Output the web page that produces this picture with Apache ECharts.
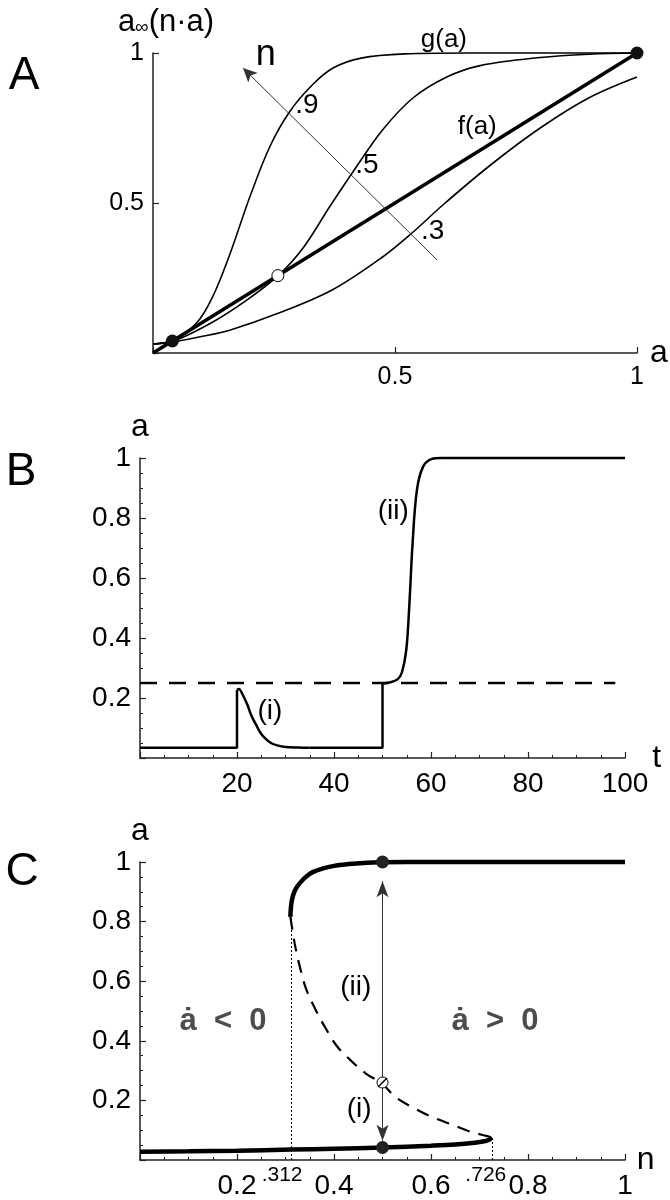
<!DOCTYPE html>
<html>
<head>
<meta charset="utf-8">
<script src="https://cdn.jsdelivr.net/npm/echarts@6/dist/echarts.min.js"></script>
<style>
  html, body { margin: 0; background: #fff; }
  #main { width: 670px; height: 1200px; }
</style>
</head>
<body>
<div id="main"></div>
<script>
// ---- panel A : a_inf(n*a) against a ----
var curveN9 = [[0, 0.03], [0.04, 0.042], [0.09, 0.1], [0.124, 0.19], [0.159, 0.33], [0.2, 0.52], [0.242, 0.69], [0.283, 0.806], [0.33, 0.895], [0.372, 0.95], [0.43, 0.983], [0.52, 0.997], [0.65, 1], [1, 1]];
var curveN5 = [[0, 0.03], [0.04, 0.038], [0.12, 0.1], [0.19, 0.172], [0.258, 0.257], [0.31, 0.35], [0.366, 0.49], [0.42, 0.62], [0.475, 0.745], [0.537, 0.85], [0.607, 0.92], [0.676, 0.958], [0.8, 0.985], [0.9, 0.996], [1, 1]];
var curveN3 = [[0, 0.03], [0.04, 0.037], [0.1, 0.055], [0.16, 0.077], [0.26, 0.133], [0.37, 0.21], [0.47, 0.315], [0.535, 0.4], [0.6, 0.495], [0.7, 0.63], [0.8, 0.75], [0.9, 0.85], [1, 0.92]];
var lineF = [[0, 0], [1, 1]];
var stableA = [[0.04, 0.04], [1, 1]];
var unstableA = [[0.258, 0.258]];
var arrowN = [[0.587, 0.31], [0.186, 0.95]];
var tickA = [0.5, 1];

// ---- panel B : a(t) ----
var bBase1 = [[0, 0.034], [20, 0.034], [20, 0.227]];
var bPulse = [[20, 0.227], [20.4, 0.23], [21.2, 0.21], [22.1, 0.179], [23, 0.14], [23.9, 0.112], [24.8, 0.085], [25.7, 0.067], [27, 0.05], [28.3, 0.042], [30, 0.037], [32.7, 0.035], [35, 0.034]];
var bBase2 = [[35, 0.034], [50, 0.034], [50, 0.248]];
var bRise = [[50, 0.248], [51.5, 0.252], [53.1, 0.262], [54, 0.285], [54.9, 0.36], [55.5, 0.5], [56.2, 0.715], [57.1, 0.894], [58.4, 0.972], [60.2, 0.997], [62, 1], [100, 1]];
var threshold = [[0, 0.25], [98, 0.25]];

// ---- panel C : bifurcation in n ----
var upperBranch = [[0.31, 0.816], [0.312, 0.86], [0.316, 0.89], [0.322, 0.912], [0.33, 0.93], [0.342, 0.95], [0.356, 0.966], [0.376, 0.978], [0.4, 0.987], [0.43, 0.993], [0.46, 0.997], [0.5, 0.999], [0.6, 1], [1, 1]];
var middleBranch = [[0.31, 0.816], [0.319, 0.726], [0.328, 0.659], [0.341, 0.581], [0.359, 0.514], [0.381, 0.447], [0.407, 0.38], [0.434, 0.335], [0.465, 0.291], [0.5, 0.255], [0.526, 0.212], [0.566, 0.173], [0.601, 0.145], [0.646, 0.117], [0.681, 0.095], [0.716, 0.08], [0.726, 0.075]];
var lowerBranch = [[0, 0.028], [0.1, 0.029], [0.2, 0.031], [0.312, 0.035], [0.4, 0.038], [0.5, 0.042], [0.6, 0.048], [0.65, 0.052], [0.69, 0.058], [0.71, 0.063], [0.72, 0.068], [0.726, 0.075]];
var stableC = [[0.5, 1], [0.5, 0.042]];
var unstableC = [[0.5, 0.26]];
var foldN = [0.312, 0.726];
var foldA = [0.816, 0.075];
var arrowUp = [[0.5, 0.27], [0.5, 0.935]];
var arrowDown = [[0.5, 0.25], [0.5, 0.065]];

var FONT = '"Liberation Sans", Arial, sans-serif';

var myChart = echarts.init(document.getElementById('main'));

function valAxis(gridIndex, max, interval, minor, isY, size) {
  return {
    type: 'value', gridIndex: gridIndex, min: 0, max: max, interval: interval,
    axisLine: { show: true, onZero: false, lineStyle: { color: '#222', width: 1.5 } },
    axisTick: { show: true, inside: true, length: 6, lineStyle: { color: '#222', width: 1.2 } },
    minorTick: { show: minor, splitNumber: 4, length: 3, lineStyle: { color: '#222', width: 1 } },
    splitLine: { show: false },
    axisLabel: {
      fontFamily: FONT, fontSize: size, color: '#000', margin: isY ? 9 : 12,
      formatter: function (v) { return v === 0 ? '' : String(+v.toFixed(2)); }
    },
    nameTextStyle: { fontFamily: FONT, fontSize: 32, color: '#000' },
    nameGap: isY ? 15 : 12
  };
}

function curve(data, xi, width, extra) {
  var s = {
    type: 'line', data: data, xAxisIndex: xi, yAxisIndex: xi, symbol: 'none',
    clip: false, silent: true, animation: false,
    lineStyle: { color: '#000', width: width }
  };
  for (var k in extra) s[k] = extra[k];
  return s;
}

function dots(xi, data, size, style, extra) {
  var s = {
    type: 'scatter', xAxisIndex: xi, yAxisIndex: xi, data: data, symbolSize: size,
    clip: false, silent: true, z: 5, itemStyle: style
  };
  style.opacity = 1;
  for (var k in extra) s[k] = extra[k];
  return s;
}

function textSeries(xi, items, size, more) {
  var lab = {
    show: true, position: 'inside', formatter: '{b}', fontFamily: FONT, fontSize: size,
    color: '#000', textBorderWidth: 0, opacity: 1
  };
  for (var k in more) lab[k] = more[k];
  return {
    type: 'scatter', xAxisIndex: xi, yAxisIndex: xi, symbolSize: 1, clip: false, silent: true,
    itemStyle: { color: 'rgba(0,0,0,0)' }, z: 10, label: lab, data: items
  };
}

var xA = valAxis(0, 1, 0.5, false, false, 25);
xA.name = 'a'; xA.nameGap = 13;
xA.axisLabel.formatter = function (v) { return tickA.indexOf(v) >= 0 ? String(v) : ''; };
var yA = valAxis(0, 1, 0.5, false, true, 25);
yA.axisLabel.formatter = function (v) { return tickA.indexOf(v) >= 0 ? String(v) : ''; };

var xB = valAxis(1, 100, 20, true, false, 28); xB.name = 't';
var yB = valAxis(1, 1, 0.2, true, true, 28); yB.name = 'a';
var xC = valAxis(2, 1, 0.2, true, false, 28); xC.name = 'n'; xC.nameGap = 8;
var yC = valAxis(2, 1, 0.2, true, true, 28); yC.name = 'a';

var letter = function (t, x, y) {
  return { type: 'text', x: x, y: y, style: { text: t, fontSize: 46, fontFamily: FONT, fill: '#000', align: 'center', verticalAlign: 'middle' } };
};

var option = {
  backgroundColor: '#fff',
  animation: false,
  grid: [
    { left: 153, top: 53, width: 484, height: 300 },
    { left: 140, top: 458, width: 485, height: 300 },
    { left: 140, top: 862, width: 485, height: 301 }
  ],
  xAxis: [xA, xB, xC],
  yAxis: [yA, yB, yC],
  graphic: [
    letter('A', 24, 76),
    letter('B', 21, 472),
    letter('C', 22, 872),
    {
      type: 'text', x: 166, y: 22,
      style: {
        text: 'a{s|∞}(n·a)', fontSize: 31, fontFamily: FONT, fill: '#000', align: 'center', verticalAlign: 'middle',
        rich: { s: { fontSize: 19, fontFamily: FONT, lineHeight: 15, verticalAlign: 'bottom' } }
      }
    }
  ],
  series: [
    // panel A
    curve(curveN9, 0, 1.6, { smooth: 0.35 }),
    curve(curveN5, 0, 1.6, { smooth: 0.35 }),
    curve(curveN3, 0, 1.6, {
      smooth: 0.35,
      markLine: {
        silent: true, symbol: ['none', 'arrow'], symbolSize: [10, 14], animation: false,
        label: { show: false }, lineStyle: { color: '#333', width: 1, type: 'solid' },
        data: [[{ coord: arrowN[0] }, { coord: arrowN[1] }]]
      }
    }),
    curve(lineF, 0, 3.5, {}),
    dots(0, stableA, 13, { color: '#111' }),
    dots(0, unstableA, 12, { color: '#fff', borderColor: '#000', borderWidth: 1 }),
    textSeries(0, [
      { name: '.9', value: [0.318, 0.827] },
      { name: '.5', value: [0.442, 0.627] },
      { name: '.3', value: [0.578, 0.407] }
    ], 28),
    textSeries(0, [
      { name: 'g(a)', value: [0.601, 1], label: { offset: [0, -13] } },
      { name: 'f(a)', value: [0.67, 0.753] }
    ], 26),
    textSeries(0, [{ name: 'n', value: [0.233, 0.993] }], 36),

    // panel B
    curve(bBase1, 1, 2.5, {}),
    curve(bPulse, 1, 2.5, { smooth: 0.35 }),
    curve(bBase2, 1, 2.5, {}),
    curve(bRise, 1, 2.5, { smooth: 0.35 }),
    curve(threshold, 1, 2.5, { lineStyle: { color: '#000', width: 2.5, type: [17, 12] } }),
    textSeries(1, [
      { name: '(i)', value: [26.8, 0.156] },
      { name: '(ii)', value: [52.2, 0.821] }
    ], 28),

    // panel C
    curve(upperBranch, 2, 4.5, { smooth: 0.35 }),
    curve(middleBranch, 2, 2.2, {
      smooth: 0.35, lineStyle: { color: '#000', width: 2.2, type: [13, 9] },
      markLine: {
        silent: true, symbol: ['none', 'none'], animation: false, label: { show: false },
        lineStyle: { color: '#000', width: 1, type: [2, 2] },
        data: [
          [{ coord: [foldN[0], 0] }, { coord: [foldN[0], foldA[0]] }],
          [{ coord: [foldN[1], 0] }, { coord: [foldN[1], foldA[1]] }]
        ]
      }
    }),
    curve(lowerBranch, 2, 4.5, {
      smooth: 0.35,
      markLine: {
        silent: true, symbol: ['none', 'arrow'], symbolSize: [9, 16], animation: false,
        label: { show: false }, lineStyle: { color: '#333', width: 1, type: 'solid' },
        data: [
          [{ coord: arrowUp[0] }, { coord: arrowUp[1] }],
          [{ coord: arrowDown[0] }, { coord: arrowDown[1] }]
        ]
      }
    }),
    dots(2, stableC, 13, { color: '#222' }),
    dots(2, unstableC, 11, { color: '#fff', borderColor: '#000', borderWidth: 1 }),
    dots(2, unstableC, 10, { color: '#000' }, { symbol: 'path://M9,0 L10,1 L1,10 L0,9 Z', z: 6 }),
    textSeries(2, [
      { name: '(ii)', value: [0.445, 0.579] },
      { name: '(i)', value: [0.452, 0.169] }
    ], 28),
    textSeries(2, [
      { name: 'ȧ  <  0', value: [0.171, 0.464] },
      { name: 'ȧ  >  0', value: [0.732, 0.464] }
    ], 31, { fontWeight: 'bold', color: '#4d4d4d' }),
    textSeries(2, [
      { name: '.312', value: [0.293, 0] },
      { name: '.726', value: [0.713, 0] }
    ], 21, { offset: [0, 15] })
  ]
};

if (option && typeof option === 'object') {
  myChart.setOption(option, true);
}
</script>
</body>
</html>
